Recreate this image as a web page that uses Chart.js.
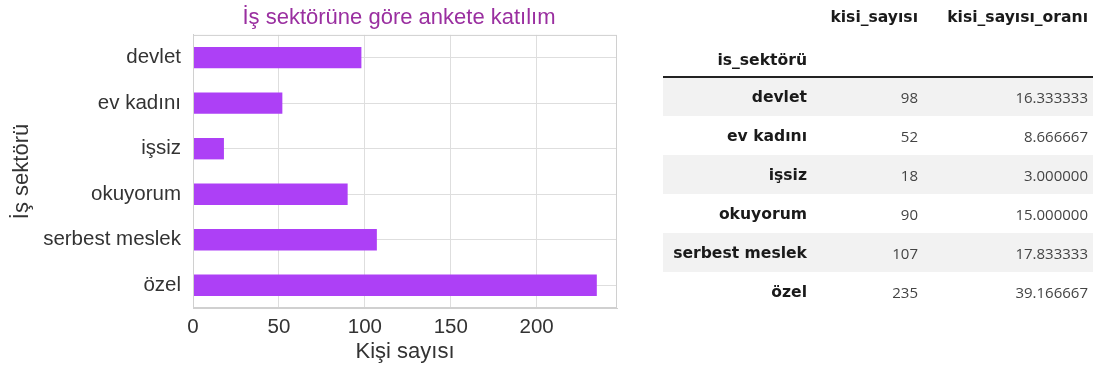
<!DOCTYPE html>
<html>
<head>
<meta charset="utf-8">
<script src="https://cdn.jsdelivr.net/npm/chart.js@4.4.1/dist/chart.umd.min.js"></script>
<style>
  body { margin: 0; background: #fff; width: 1093px; height: 370px; overflow: hidden; position: relative; }
  #chartBox { position: absolute; left: 0; top: 0; width: 798px; height: 370px; }
  #tbl { position: absolute; left: 663px; top: 0; z-index: 2; border-collapse: collapse; table-layout: fixed; }
  #tbl td, #tbl th { padding: 0; text-align: right; white-space: nowrap; }
  #tbl th { font-family: "DejaVu Sans", sans-serif; font-weight: bold; color: #1a1a1a; font-size: 15.6px; }
  #tbl td { font-family: "Open Sans", sans-serif; color: #444; font-size: 15px; }
  #tbl tr.h1 { height: 34px; }
  #tbl tr.h2 { height: 43px; }
  #tbl tr.h2 th { vertical-align: bottom; padding-bottom: 7px; border-bottom: 2px solid #222; }
  #tbl tbody tr { height: 39px; }
  #tbl tbody tr:nth-child(odd) { background: #f2f2f2; }
</style>
</head>
<body>
<div id="chartBox"><canvas id="sektorChart" width="798" height="370"></canvas></div>
<table id="tbl">
  <colgroup><col style="width:144px"><col style="width:111px"><col style="width:170px"><col style="width:5px"></colgroup>
  <thead></thead>
  <tbody></tbody>
</table>
<script>
var sektorler = ['devlet', 'ev kadını', 'işsiz', 'okuyorum', 'serbest meslek', 'özel'];
var kisiSayisi = [98, 52, 18, 90, 107, 235];
var kisiOrani = [16.333333, 8.666667, 3.000000, 15.000000, 17.833333, 39.166667];
var xTickValues = [0, 50, 100, 150, 200];

var fontName = '"Liberation Sans", Arial, sans-serif';
var gridColor = '#dedede';

// table next to the chart
function buildTable(){
	let thead = document.querySelector('#tbl thead');
	let tbody = document.querySelector('#tbl tbody');
	thead.innerHTML =
		'<tr class="h1"><th></th><th>kisi_sayısı</th><th>kisi_sayısı_oranı</th><th></th></tr>' +
		'<tr class="h2"><th>is_sektörü</th><th></th><th></th><th></th></tr>';
	for(let i = 0; i < sektorler.length; i++){
		let tr = document.createElement('tr');
		tr.innerHTML = '<th>' + sektorler[i] + '</th><td>' + kisiSayisi[i] + '</td><td>' +
			kisiOrani[i].toFixed(6) + '</td><td></td>';
		tbody.appendChild(tr);
	}
}

// light frame on top and right of the plot area
const framePlugin = {
	id: 'frame',
	afterLayout(chart){
		// keep the title centred over the plot, not the whole canvas
		let a = chart.chartArea;
		chart.titleBlock.left = a.left - 12;
		chart.titleBlock.right = a.right;
	},
	afterDraw(chart){
		let a = chart.chartArea;
		let ctx = chart.ctx;
		ctx.save();
		ctx.strokeStyle = '#d0d0d0';
		ctx.lineWidth = 1;
		ctx.strokeRect(a.left + 0.5, a.top + 0.5, a.right - a.left - 1, a.bottom - a.top - 1);
		ctx.restore();
	}
};

function drawChart(){
	const data = {
		labels: sektorler,
		datasets: [{
			label: 'kisi_sayısı',
			data: kisiSayisi,
			backgroundColor: '#ad40f6',
			barPercentage: 0.47,
			categoryPercentage: 1.0
		}]
	};

	const config = {
		type: 'bar',
		data: data,
		plugins: [framePlugin],
		options: {
			indexAxis: 'y',
			responsive: false,
			animation: false,
			layout: { padding: { left: 0, right: 181, top: 0, bottom: 0 } },
			plugins: {
				legend: { display: false },
				tooltip: { enabled: false },
				title: {
					display: true,
					text: 'İş sektörüne göre ankete katılım',
					color: '#9a2fa0',
					font: { family: fontName, size: 22, weight: 'normal' },
					padding: { top: 5, bottom: 3.5 }
				}
			},
			scales: {
				x: {
					type: 'linear',
					min: 0,
					max: Math.max(...kisiSayisi) * 1.05,
					afterBuildTicks: function(s){ s.ticks = xTickValues.map(v => ({ value: v })); },
					afterFit: function(s){ s.height = 62; },
					grid: { color: gridColor, drawTicks: false },
					border: { color: '#d0d0d0' },
					ticks: { color: '#333', padding: 7, font: { family: fontName, size: 20.5 } },
					title: {
						display: true,
						text: 'Kişi sayısı',
						color: '#333',
						font: { family: fontName, size: 22 },
						padding: { top: 0, bottom: 5 }
					}
				},
				y: {
					afterFit: function(s){ s.width = 193; },
					grid: { color: gridColor, drawTicks: false, offset: false },
					border: { color: '#d0d0d0' },
					ticks: { color: '#333', padding: 12, font: { family: fontName, size: 20.5 } },
					title: {
						display: true,
						text: 'İş sektörü',
						color: '#333',
						font: { family: fontName, size: 22 },
						padding: { top: 9, bottom: 0 }
					}
				}
			}
		}
	};

	new Chart(document.getElementById('sektorChart'), config);
}

buildTable();
drawChart();
</script>
</body>
</html>
